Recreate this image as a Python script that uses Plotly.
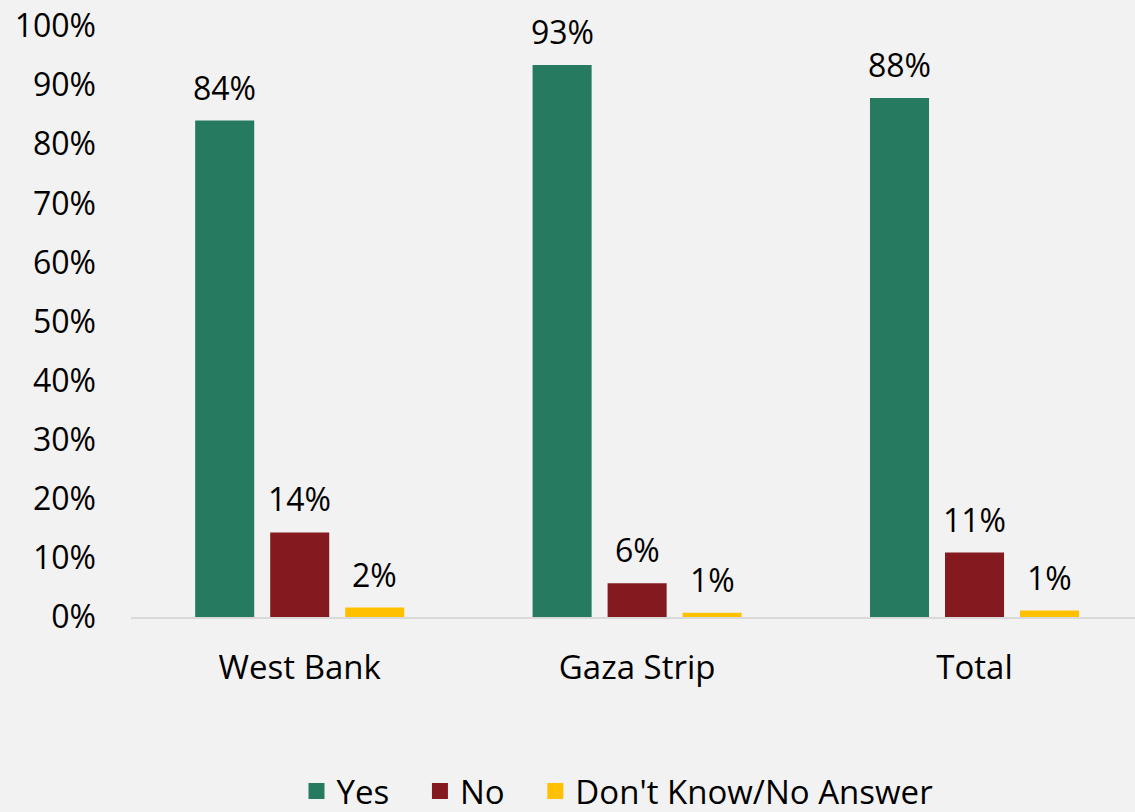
import plotly.graph_objects as go

categories = ["West Bank", "Gaza Strip", "Total"]
yes_vals = [84.0, 93.4, 87.8]
no_vals = [14.3, 5.7, 10.9]
dk_vals = [1.6, 0.7, 1.1]
series_names = ["Yes", "No", "Don't Know/No Answer"]
colors = ["#257A60", "#841A1F", "#FFC000"]
y_ticks = [0, 10, 20, 30, 40, 50, 60, 70, 80, 90, 100]
y_tick_labels = [f"{t}%" for t in y_ticks]

FONT = "Open Sans"
FS = 32
FS_X = 33
PAD = "\u00a0\u00a0\u00a0"

fig = go.Figure()
series = [yes_vals, no_vals, dk_vals]
for name, vals, col in zip(series_names, series, colors):
    fig.add_trace(go.Bar(
        x=categories, y=vals, name=name,
        marker=dict(color=col, line=dict(width=0)),
        textposition="none", showlegend=False,
    ))
# legend entries with larger square swatches
for i, (name, col) in enumerate(zip(series_names, colors)):
    label = name + (PAD if i < len(series_names) - 1 else "")
    fig.add_trace(go.Scatter(
        x=[None], y=[None], name=label, mode="markers",
        marker=dict(symbol="square", size=20, color=col),
        showlegend=True,
    ))

# value labels above bars
offsets = [-75, 0, 75]
for vals, off in zip(series, offsets):
    for cat, v in zip(categories, vals):
        fig.add_annotation(
            x=cat, y=v, xref="x", yref="y", text=f"{v:.0f}%",
            showarrow=False, yanchor="bottom", xshift=off, yshift=10,
            font=dict(family=FONT, size=FS, color="#000000"),
        )

fig.update_layout(
    width=1135, height=812,
    paper_bgcolor="#F2F2F2", plot_bgcolor="#F2F2F2",
    margin=dict(l=131, r=0, t=26, b=195),
    barmode="group", bargap=0.333, bargroupgap=0.213,
    font=dict(family=FONT, size=FS, color="#000000"),
    legend=dict(
        orientation="h", xref="container", yref="container",
        x=617.5 / 1135, xanchor="center", y=1 - 791 / 812, yanchor="middle",
        font=dict(family=FONT, size=FS_X), itemwidth=30,
        traceorder="normal", tracegroupgap=0,
    ),
    xaxis=dict(
        range=[-0.5, 2.4756], showgrid=False, showline=True,
        linecolor="#D9D9D9", linewidth=2, ticks="",
        ticklabelstandoff=20, tickfont=dict(family=FONT, size=FS_X),
    ),
    yaxis=dict(
        range=[0, 100], tickvals=y_ticks, ticktext=y_tick_labels,
        showgrid=False, zeroline=False, showline=False,
        ticklabelstandoff=34, tickfont=dict(family=FONT, size=FS),
    ),
)

fig.write_html(
    "out.html",
    config={"displayModeBar": False},
    post_script="document.body.style.margin='0';document.body.style.padding='0';",
)
